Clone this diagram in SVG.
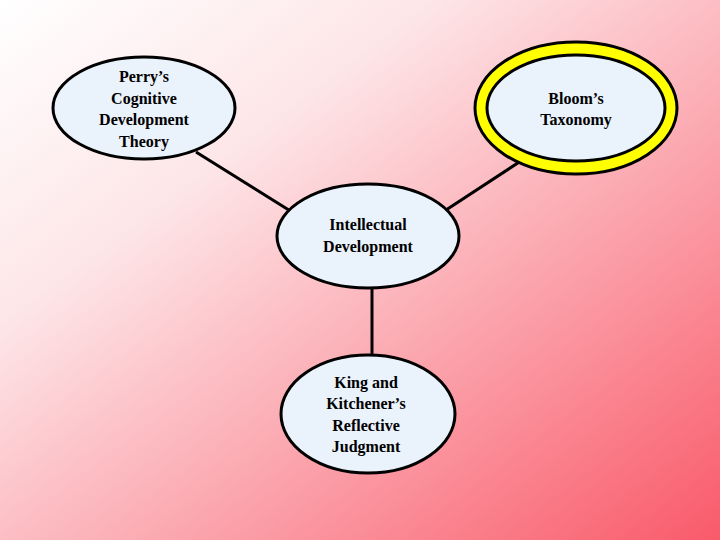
<svg xmlns="http://www.w3.org/2000/svg" width="720" height="540" viewBox="0 0 720 540">
<defs>
<linearGradient id="bg" x1="0" y1="0" x2="1" y2="1">
<stop offset="0" stop-color="#ffffff"/>
<stop offset="0.3" stop-color="#fde6e8"/>
<stop offset="1" stop-color="#f95a6a"/>
</linearGradient>
<style>
.n{fill:#eaf2fb;stroke:#000;stroke-width:3}
.t{font-family:"Liberation Serif",serif;font-size:16px;font-weight:bold;text-anchor:middle;fill:#000}
.c{stroke:#000;stroke-width:3;fill:none}
</style>
</defs>
<rect width="720" height="540" fill="url(#bg)"/>
<g id="connectors">
<line class="c" x1="196" y1="152" x2="292" y2="212"/>
<line class="c" x1="530" y1="155" x2="446" y2="210"/>
<line class="c" x1="372" y1="288" x2="372" y2="356"/>
</g>
<g id="perry">
<ellipse class="n" cx="144" cy="108" rx="91" ry="51"/>
<text class="t" x="144" y="82">Perry’s</text>
<text class="t" x="144" y="104">Cognitive</text>
<text class="t" x="144" y="125">Development</text>
<text class="t" x="144" y="147">Theory</text>
</g>
<g id="bloom">
<ellipse cx="576" cy="108" rx="101" ry="66" fill="#ffff00" stroke="#000" stroke-width="3"/>
<ellipse class="n" cx="576" cy="108" rx="89" ry="53" stroke-width="2"/>
<text class="t" x="576" y="104">Bloom’s</text>
<text class="t" x="576" y="125">Taxonomy</text>
</g>
<g id="intellectual">
<ellipse class="n" cx="368" cy="236" rx="91" ry="52"/>
<text class="t" x="368" y="230">Intellectual</text>
<text class="t" x="368" y="252">Development</text>
</g>
<g id="king">
<ellipse class="n" cx="368" cy="414" rx="87" ry="59"/>
<text class="t" x="366" y="388">King and</text>
<text class="t" x="366" y="409">Kitchener’s</text>
<text class="t" x="366" y="431">Reflective</text>
<text class="t" x="366" y="452">Judgment</text>
</g>
</svg>
